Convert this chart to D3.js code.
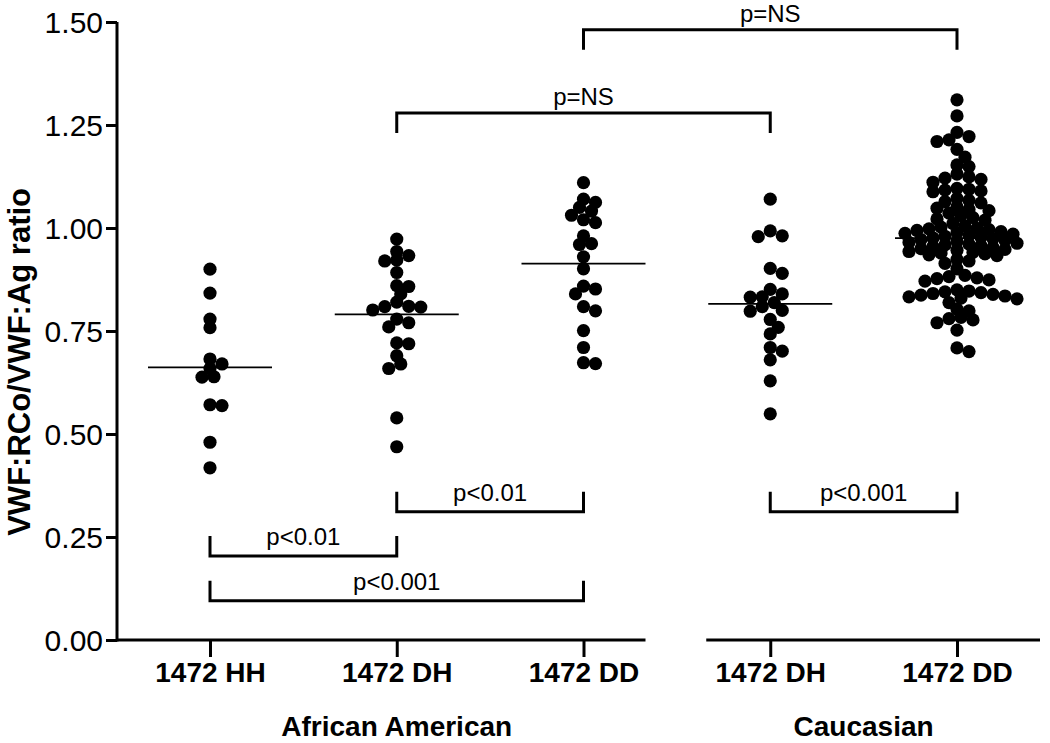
<!DOCTYPE html>
<html>
<head>
<meta charset="utf-8">
<script src="https://cdn.jsdelivr.net/npm/d3@7"></script>
<style>
  html, body { margin: 0; padding: 0; background: #fff; }
  svg { display: block; }
  text { font-family: "Liberation Sans", Arial, Helvetica, sans-serif; fill: #000; }
</style>
</head>
<body>
<svg id="chart" width="1050" height="743"></svg>
<script>
// ---------------- data ----------------
const categories = ["1472 HH", "1472 DH", "1472 DD", "1472 DH", "1472 DD"];
const groups = ["African American", "Caucasian"];
const groupOfCategory = [0, 0, 0, 1, 1];
const yTicks = [0, 0.25, 0.5, 0.75, 1.0, 1.25, 1.5];

const aaHH = [0.900, 0.842, 0.779, 0.758, 0.682, 0.670, 0.659, 0.639, 0.638, 0.571, 0.569, 0.480, 0.418];
const aaDH = [0.973, 0.943, 0.933, 0.922, 0.920, 0.892, 0.860, 0.858, 0.840, 0.820, 0.810, 0.809, 0.808,
              0.801, 0.779, 0.770, 0.760, 0.721, 0.719, 0.690, 0.670, 0.659, 0.539, 0.469];
const aaDD = [1.110, 1.070, 1.062, 1.050, 1.041, 1.031, 1.020, 1.013, 0.981, 0.962, 0.960, 0.930, 0.901,
              0.859, 0.852, 0.840, 0.809, 0.799, 0.751, 0.710, 0.673, 0.671];
const caDH = [1.070, 0.993, 0.981, 0.979, 0.902, 0.890, 0.851, 0.840, 0.833, 0.832, 0.819, 0.809, 0.800,
              0.798, 0.778, 0.759, 0.743, 0.710, 0.701, 0.680, 0.629, 0.549];
const caDD = [1.311, 1.272, 1.232, 1.222, 1.214, 1.210, 1.191, 1.172, 1.153, 1.149, 1.131, 1.124, 1.121,
              1.118, 1.111, 1.096, 1.094, 1.092, 1.090, 1.088, 1.072, 1.067, 1.064, 1.061, 1.051, 1.048,
              1.045, 1.042, 1.036, 1.030, 1.025, 1.022, 1.019, 1.011, 1.005, 1.002, 0.999, 0.998, 0.996,
              0.994, 0.991, 0.989, 0.987, 0.985, 0.982, 0.980, 0.978, 0.976, 0.974, 0.972, 0.970, 0.967,
              0.965, 0.963, 0.961, 0.959, 0.957, 0.955, 0.953, 0.950, 0.948, 0.946, 0.943, 0.941, 0.939,
              0.937, 0.935, 0.933, 0.924, 0.920, 0.914, 0.901, 0.885, 0.882, 0.879, 0.877, 0.874, 0.871,
              0.850, 0.847, 0.845, 0.843, 0.841, 0.839, 0.837, 0.835, 0.833, 0.830, 0.828, 0.819, 0.803,
              0.799, 0.783, 0.780, 0.777, 0.770, 0.752, 0.709, 0.700];
const seriesValues = [aaHH, aaDH, aaDD, caDH, caDD];

// comparisons: [from category index, to category index, label, level (data units), opens]
const comparisons = [
  [2, 4, "p=NS", 1.481, "down"],
  [1, 3, "p=NS", 1.279, "down"],
  [1, 2, "p<0.01", 0.311, "up"],
  [3, 4, "p<0.001", 0.311, "up"],
  [0, 1, "p<0.01", 0.204, "up"],
  [0, 2, "p<0.001", 0.095, "up"]
];
const yTitle = "VWF:RCo/VWF:Ag ratio";

// ---------------- layout ----------------
const svg = d3.select("#chart");
const y = d3.scaleLinear().domain([0, 1.5]).range([640, 22]);
const x = d3.scalePoint().domain(d3.range(categories.length)).range([210, 957]);
const axisX0 = 117;
const bold = "bold";

// y axis
const yAxis = svg.append("g")
  .attr("transform", `translate(${axisX0},0)`)
  .call(d3.axisLeft(y).tickValues(yTicks).tickFormat(d3.format(".2f")).tickSize(11).tickSizeOuter(0).tickPadding(3));
yAxis.select(".domain").attr("stroke-width", 3).attr("d", `M0,${y(1.5)}V${y(0) + 1.5}`);
yAxis.selectAll(".tick line").attr("stroke-width", 3);
yAxis.selectAll(".tick text").style("font-size", "30px").attr("dy", "0.36em");

// x axes (one segment per group)
const segs = [
  [axisX0, x(2) + 62, [0, 1, 2]],
  [x(3) - 64, 1040, [3, 4]]
];
segs.forEach(([x0, x1, ticks]) => {
  const g = svg.append("g").attr("transform", `translate(0,${y(0)})`)
    .call(d3.axisBottom(x).tickValues(ticks).tickFormat(i => categories[i]).tickSize(17).tickSizeOuter(0).tickPadding(5));
  g.select(".domain").attr("d", `M${x0},0H${x1}`).attr("stroke-width", 3);
  g.selectAll(".tick line").attr("stroke-width", 3);
  g.selectAll(".tick text").style("font-size", "28px").style("font-weight", bold);
});

// group labels
groups.forEach((gName, gi) => {
  const idx = d3.range(categories.length).filter(i => groupOfCategory[i] === gi);
  const cx = gi === 0 ? x(idx[1]) : (x(idx[0]) + x(idx[1])) / 2;
  svg.append("text").attr("x", cx).attr("y", 736).attr("text-anchor", "middle")
    .style("font-size", "28px").style("font-weight", bold).text(gName);
});

// y title
svg.append("text")
  .attr("transform", `translate(30,${y(0.675)}) rotate(-90)`)
  .attr("text-anchor", "middle")
  .style("font-size", "31px").style("font-weight", bold)
  .text(yTitle);

// swarm layout (dot-plot style, dots may overlap slightly; elliptical spacing)
const R = 6.6, STEP = 4, AX = 11.5, AY = 8.5;
function swarm(values, cx) {
  const pts = values.map(v => ({ v, y: y(v) })).sort((a, b) => b.v - a.v);
  const placed = [];
  pts.forEach(p => {
    for (let k = 0; k < 200; k++) {
      const off = k === 0 ? 0 : (k % 2 === 1 ? (k + 1) / 2 : -k / 2) * STEP;
      const px = cx + off;
      const clash = placed.some(q => {
        const dx = (q.x - px) / AX, dy = (q.y - p.y) / AY;
        return dx * dx + dy * dy < 1;
      });
      if (!clash) { p.x = px; placed.push(p); break; }
    }
  });
  return placed;
}

seriesValues.forEach((vals, i) => {
  const cx = x(i);
  const pts = swarm(vals, cx);
  svg.append("g").selectAll("circle").data(pts).join("circle")
    .attr("cx", d => d.x).attr("cy", d => d.y).attr("r", R).attr("fill", "#000");
  const m = d3.mean(vals);
  svg.append("line").attr("x1", cx - 62).attr("x2", cx + 62)
    .attr("y1", y(m)).attr("y2", y(m)).attr("stroke", "#000").attr("stroke-width", 1.8);
});

// comparison brackets
const TICK = 20;
comparisons.forEach(([a, b, label, level, opens]) => {
  const x1 = x(a), x2 = x(b), ly = y(level);
  const ey = opens === "down" ? ly + TICK : ly - TICK;
  svg.append("path")
    .attr("d", `M${x1},${ey}V${ly}H${x2}V${ey}`)
    .attr("fill", "none").attr("stroke", "#000").attr("stroke-width", 3);
  const ty = opens === "down" ? ly - 8 : ly - 11;
  svg.append("text").attr("x", (x1 + x2) / 2).attr("y", ty)
    .attr("text-anchor", "middle").style("font-size", "24px").text(label);
});
</script>
</body>
</html>
